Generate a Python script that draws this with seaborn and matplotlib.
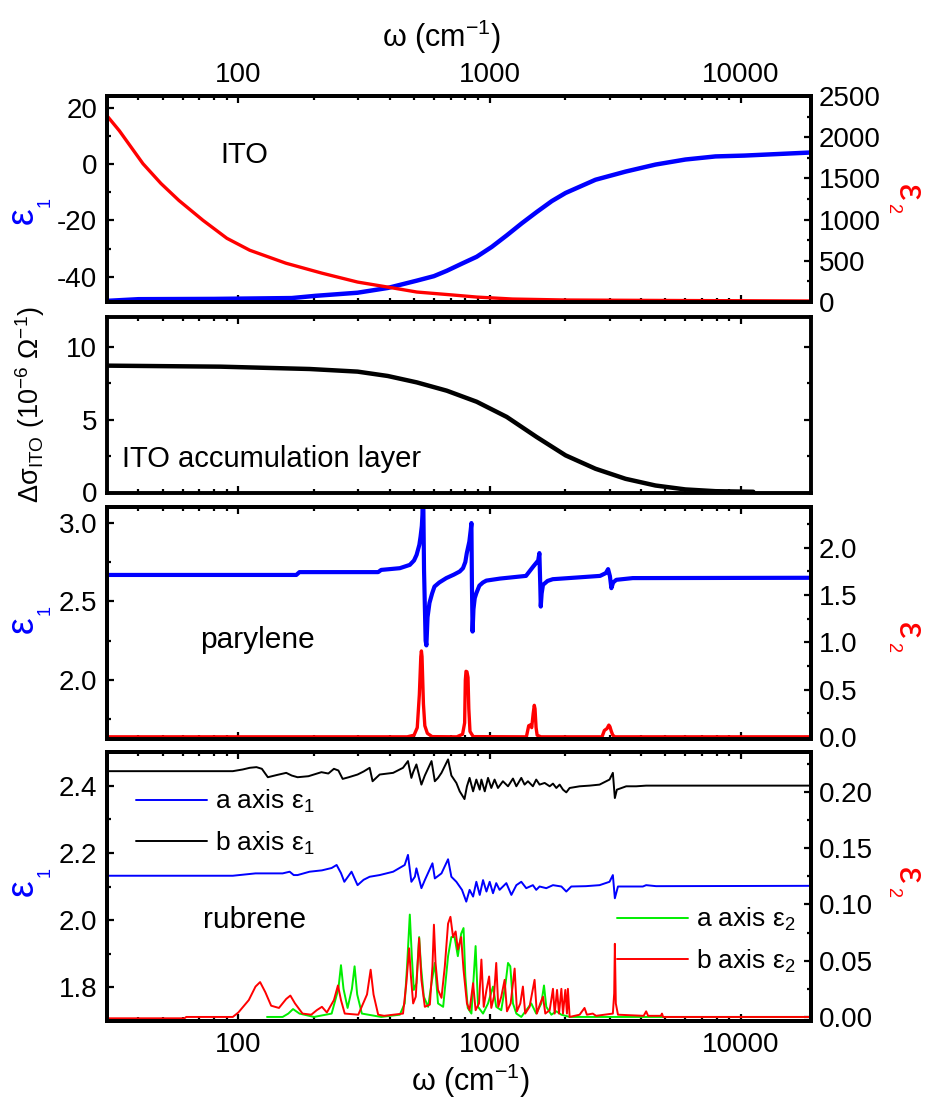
import numpy as np
import matplotlib
matplotlib.use("Agg")
import matplotlib.pyplot as plt
import seaborn as sns
from matplotlib.ticker import (MultipleLocator, FixedLocator, LogLocator,
                               FuncFormatter, NullFormatter, FormatStrFormatter)

# ---------------- ITO film: dielectric function ----------------
ito_w1 = [30, 40, 80, 163, 203, 298, 393, 513, 600, 675, 773, 888, 1019,
          1169, 1342, 1538, 1767, 2005, 2637, 3473, 4570, 6013, 7918, 10330,
          19000]
ito_eps1 = [-48.6, -48.0, -47.9, -47.6, -46.8, -45.7, -44.0, -41.4, -39.8,
            -37.9, -35.4, -32.9, -29.4, -25.3, -21.0, -17.0, -13.1, -10.2,
            -5.5, -2.6, -0.1, 1.7, 2.8, 3.1, 4.2]
ito_w2 = [30, 33.6, 41.7, 49.2, 58.0, 72.3, 90, 111, 154.5, 215, 298, 393,
          513, 713, 888, 1233, 2005, 5700, 19000]
ito_eps2 = [2260, 2078, 1679, 1438, 1232, 991, 773, 628, 471, 350, 242, 181,
            121, 85, 60, 36, 24, 18, 12]

# ---------------- ITO accumulation layer ----------------
acc_w = [30, 85, 192, 298, 393, 513, 675, 888, 1169, 1538, 2005, 2637, 3473,
         4570, 6013, 7918, 11200]
acc_dsig = [8.71, 8.64, 8.48, 8.30, 8.00, 7.56, 6.99, 6.23, 5.19, 3.81, 2.55,
            1.63, 0.94, 0.48, 0.21, 0.09, 0.05]

# ---------------- parylene ----------------
par_w1 = [30, 170, 175, 360, 370, 439, 481, 500, 512, 525, 531, 537, 540,
          543, 548, 556, 560, 566, 576, 590, 603, 630, 672, 720, 760, 783,
          800, 811, 830, 840, 846, 850, 855, 862, 872, 885, 910, 940, 970,
          1100, 1395, 1488, 1560, 1577, 1590, 1597, 1610, 1630, 1700, 1783,
          2750, 2900, 2960, 3010, 3050, 3100, 3190, 3710, 19000]
par_eps1 = [2.668, 2.668, 2.686, 2.686, 2.700, 2.711, 2.732, 2.760, 2.796,
            2.860, 2.913, 2.980, 3.05, 3.30, 2.70, 2.25, 2.22, 2.40, 2.49,
            2.55, 2.594, 2.620, 2.648, 2.670, 2.690, 2.711, 2.750, 2.807,
            2.880, 2.95, 2.998, 2.60, 2.308, 2.45, 2.52, 2.552, 2.600, 2.620,
            2.632, 2.645, 2.662, 2.72, 2.76, 2.807, 2.60, 2.467, 2.55, 2.605,
            2.630, 2.641, 2.662, 2.68, 2.705, 2.66, 2.584, 2.62, 2.637, 2.648,
            2.650]
par_w2 = [30, 470, 500, 515, 525, 532, 535, 538, 545, 552, 565, 590, 740, 780,
          795, 800, 805, 812, 820, 826, 835, 860, 1400, 1430, 1455, 1470, 1490,
          1505, 1515, 1530, 1545, 1600, 2800, 2860, 2930, 2980, 3010, 3050,
          3090, 3150, 19000]
par_eps2 = [0.003, 0.003, 0.02, 0.10, 0.45, 0.85, 0.91, 0.85, 0.35, 0.12,
            0.04, 0.005, 0.003, 0.03, 0.15, 0.60, 0.695, 0.69, 0.63, 0.30,
            0.06, 0.005, 0.003, 0.12, 0.13, 0.10, 0.25, 0.336, 0.30, 0.10,
            0.02, 0.003, 0.003, 0.07, 0.09, 0.127, 0.11, 0.06, 0.02, 0.003,
            0.003]

# ---------------- rubrene ----------------
rub_b1_w = [30, 95, 104, 111, 118, 124, 131, 143, 155, 163, 172, 190, 214,
            228, 240, 250, 260, 275, 298, 315, 333, 342, 365, 413, 452, 473,
            488, 496, 511, 535, 552, 587, 605, 623, 643, 683, 704, 737, 760,
            794, 812, 832, 859, 885, 913, 927, 956, 985, 1015, 1046, 1079,
            1129, 1183, 1238, 1277, 1336, 1377, 1420, 1486, 1532, 1580, 1655,
            1733, 1786, 1842, 1899, 1958, 2018, 2081, 2280, 2498, 2737, 2999,
            3092, 3149, 3208, 3495, 3829, 4195, 4596, 19000]
rub_b1 = [2.443, 2.443, 2.448, 2.453, 2.455, 2.450, 2.425, 2.432, 2.438,
          2.430, 2.425, 2.428, 2.440, 2.436, 2.450, 2.445, 2.420, 2.425,
          2.433, 2.442, 2.453, 2.413, 2.433, 2.438, 2.453, 2.473, 2.423,
          2.440, 2.463, 2.403, 2.430, 2.473, 2.413, 2.423, 2.438, 2.478,
          2.430, 2.408, 2.383, 2.360, 2.398, 2.423, 2.383, 2.418, 2.388,
          2.418, 2.383, 2.423, 2.393, 2.418, 2.393, 2.413, 2.398, 2.421,
          2.398, 2.423, 2.403, 2.413, 2.398, 2.418, 2.403, 2.408, 2.398,
          2.406, 2.393, 2.403, 2.388, 2.380, 2.393, 2.398, 2.400, 2.403,
          2.418, 2.438, 2.363, 2.388, 2.398, 2.398, 2.400, 2.400, 2.400]
rub_a1_w = [30, 95, 117, 150, 160, 166, 172, 192, 215, 235, 246, 256, 264,
            282, 298, 315, 333, 365, 413, 459, 473, 488, 504, 511, 535, 552,
            592, 605, 643, 683, 704, 737, 776, 807, 832, 859, 885, 913, 941,
            971, 1000, 1031, 1062, 1095, 1165, 1220, 1277, 1336, 1398, 1486,
            1532, 1580, 1680, 1786, 1929, 2018, 2112, 2415, 2737, 2999, 3092,
            3149, 3240, 4070, 4195, 4596, 19000]
rub_a1 = [2.132, 2.132, 2.139, 2.139, 2.144, 2.134, 2.134, 2.144, 2.148,
          2.155, 2.164, 2.140, 2.114, 2.144, 2.104, 2.120, 2.129, 2.134,
          2.144, 2.164, 2.194, 2.114, 2.129, 2.154, 2.095, 2.119, 2.169,
          2.124, 2.139, 2.181, 2.129, 2.114, 2.090, 2.055, 2.090, 2.070,
          2.114, 2.075, 2.119, 2.085, 2.114, 2.080, 2.110, 2.090, 2.110,
          2.075, 2.104, 2.114, 2.095, 2.104, 2.090, 2.100, 2.095, 2.104,
          2.100, 2.085, 2.100, 2.101, 2.104, 2.114, 2.134, 2.065, 2.100,
          2.100, 2.104, 2.101, 2.102]
rub_b2_w = [30, 61, 62, 95, 100, 110, 117, 122, 128, 135, 145, 155, 161, 168,
            180, 195, 205, 215, 225, 240, 249, 256, 265, 300, 325, 336, 345,
            360, 380, 452, 466, 478, 486, 496, 508, 524, 535, 552, 578, 592,
            600, 609, 623, 643, 663, 683, 698, 715, 732, 747, 770, 787, 812,
            832, 859, 879, 907, 927, 947, 971, 995, 1015, 1040, 1062, 1082,
            1112, 1147, 1172, 1212, 1257, 1284, 1324, 1356, 1385, 1441, 1509,
            1541, 1590, 1630, 1665, 1733, 1786, 1814, 1854, 1888, 1929, 1958,
            2000, 2030, 2048, 2081, 2280, 2385, 2437, 2572, 2651, 3092, 3130,
            3149, 3177, 3240, 4100, 4195, 4270, 4800, 4850, 4900, 19000]
rub_b2 = [-0.0012, -0.0012, 0.0, 0.0, 0.004, 0.015, 0.027, 0.031, 0.022,
          0.010, 0.008, 0.016, 0.019, 0.012, 0.003, 0.002, 0.006, 0.009,
          0.004, 0.015, 0.028, 0.015, 0.003, 0.002, 0.020, 0.042, 0.020,
          0.002, 0.001, 0.003, 0.030, 0.061, 0.036, 0.012, 0.018, 0.070,
          0.033, 0.009, 0.011, 0.045, 0.082, 0.048, 0.024, 0.017, 0.045,
          0.083, 0.089, 0.071, 0.076, 0.060, 0.071, 0.042, 0.012, 0.006,
          0.030, 0.006, 0.012, 0.051, 0.009, 0.024, 0.036, 0.008, 0.018,
          0.048, 0.009, 0.018, 0.033, 0.005, 0.012, 0.043, 0.005, 0.012,
          0.027, 0.003, 0.009, 0.033, 0.003, 0.012, 0.018, 0.003, 0.006,
          0.025, 0.003, 0.024, 0.003, 0.025, 0.003, 0.024, 0.003, 0.025,
          0.0, 0.002, 0.008, 0.002, 0.003, 0.001, 0.003, 0.021, 0.065, 0.012,
          0.002, 0.001, 0.005, 0.001, 0.001, 0.003, 0.0, 0.0]
rub_a2_w = [130, 150, 158, 165, 175, 200, 235, 250, 256, 262, 272, 283, 290,
            297, 310, 370, 439, 459, 469, 481, 490, 499, 511, 524, 533, 547,
            569, 587, 605, 623, 653, 683, 704, 725, 747, 770, 787, 800, 818,
            846, 879, 899, 941, 985, 1031, 1062, 1112, 1157, 1183, 1208, 1238,
            1277, 1336, 1398, 1464, 1532, 1605, 1645, 1680, 1760, 1842, 1929,
            2081, 19000]
rub_a2 = [0.0, 0.0, 0.003, 0.007, 0.003, 0.0, 0.003, 0.025, 0.046, 0.025,
          0.008, 0.025, 0.045, 0.020, 0.003, 0.0, 0.002, 0.012, 0.045, 0.091,
          0.054, 0.024, 0.030, 0.071, 0.045, 0.018, 0.009, 0.030, 0.048,
          0.012, 0.009, 0.054, 0.071, 0.071, 0.054, 0.074, 0.079, 0.036,
          0.008, 0.003, 0.063, 0.009, 0.003, 0.012, 0.027, 0.009, 0.006,
          0.030, 0.048, 0.045, 0.012, 0.003, 0.0, 0.006, 0.012, 0.003, 0.012,
          0.028, 0.009, 0.002, 0.005, 0.002, 0.0, 0.0]

x_major = [100, 1000, 10000]

# ---------------- figure layout (pixel based) ----------------
W, H = 935, 1101


def fx(px):
    return px / W


def fy(py):
    return 1 - py / H


sns.set_theme(style="ticks")
plt.rcParams.update({
    "font.family": ["Liberation Sans", "DejaVu Sans"],
    "mathtext.default": "regular",
    "axes.unicode_minus": False,
    "axes.linewidth": 2.8,
    "axes.edgecolor": "black",
    "text.color": "black",
    "xtick.color": "black", "ytick.color": "black",
    "xtick.direction": "in", "ytick.direction": "in",
    "xtick.major.size": 5, "ytick.major.size": 5,
    "xtick.minor.size": 3, "ytick.minor.size": 3,
    "xtick.major.width": 1.6, "ytick.major.width": 1.6,
    "xtick.minor.width": 1.6, "ytick.minor.width": 1.6,
    "xtick.labelsize": 20, "ytick.labelsize": 20,
})

fig = plt.figure(figsize=(W / 100, H / 100), dpi=100)

X0, X1 = 107, 811


def panel(top, bottom):
    return fig.add_axes([fx(X0), fy(bottom), (X1 - X0) / W, (bottom - top) / H])


ax1 = panel(96, 302)
ax2 = panel(317, 492.5)
ax3 = panel(507, 739)
ax4 = panel(752, 1021)
ax1r = ax1.twinx()
ax3r = ax3.twinx()
ax4r = ax4.twinx()

for ax in (ax1, ax2, ax3, ax4, ax1r, ax3r, ax4r):
    ax.set_xscale("log")


def trace(ax, w, v, color, lw, label=None):
    sns.lineplot(x=w, y=v, ax=ax, color=color, linewidth=lw, sort=False,
                 estimator=None, legend=False, label=label)


# ITO
trace(ax1, ito_w1, ito_eps1, "#0000ff", 3.2)
trace(ax1r, ito_w2, ito_eps2, "#ff0000", 2.4)
# accumulation layer
trace(ax2, acc_w, acc_dsig, "black", 3.2)
# parylene
trace(ax3, par_w1, par_eps1, "#0000ff", 3.0)
trace(ax3r, par_w2, par_eps2, "#ff0000", 2.4)
# rubrene
trace(ax4, rub_a1_w, rub_a1, "#0000ff", 1.4, "a axis $ε_1$")
trace(ax4, rub_b1_w, rub_b1, "black", 1.4, "b axis $ε_1$")
trace(ax4r, rub_a2_w, rub_a2, "#00ee00", 1.4, "a axis $ε_2$")
trace(ax4r, rub_b2_w, rub_b2, "#ff0000", 1.4, "b axis $ε_2$")

# ---------------- axes styling ----------------
for ax in (ax1, ax2, ax3, ax4):
    ax.set_xlim(30, 19000)
    ax.xaxis.set_major_locator(FixedLocator(x_major))
    ax.xaxis.set_minor_locator(LogLocator(base=10, subs=np.arange(2, 10) * 1.0, numticks=20))
    ax.xaxis.set_major_formatter(FuncFormatter(lambda v, p: f"{v:.0f}"))
    ax.xaxis.set_minor_formatter(NullFormatter())
    ax.tick_params(axis="x", which="both", top=True, bottom=True,
                   labeltop=False, labelbottom=False)
    ax.tick_params(axis="y", which="both", left=True, right=False, pad=7)
    ax.set_xlabel("")
    ax.set_ylabel("")

ax1.tick_params(axis="x", labeltop=True, pad=5.5)
ax4.tick_params(axis="x", labelbottom=True, pad=8)
ax2.tick_params(axis="y", which="both", right=True)

for axr in (ax1r, ax3r, ax4r):
    axr.tick_params(axis="y", which="both", right=True, left=False,
                    labelright=True, pad=5.5)
    axr.set_ylabel("")

ax1.set_ylim(-49, 24.3)
ax1.yaxis.set_major_locator(MultipleLocator(20))
ax1.yaxis.set_minor_locator(MultipleLocator(10))
ax1.yaxis.set_major_formatter(FormatStrFormatter("%d"))
ax1r.set_ylim(0, 2500)
ax1r.yaxis.set_major_locator(MultipleLocator(500))
ax1r.yaxis.set_minor_locator(MultipleLocator(250))
ax1r.yaxis.set_major_formatter(FormatStrFormatter("%d"))

ax2.set_ylim(0, 12.05)
ax2.yaxis.set_major_locator(MultipleLocator(5))
ax2.yaxis.set_minor_locator(MultipleLocator(2.5))
ax2.yaxis.set_major_formatter(FormatStrFormatter("%d"))

ax3.set_ylim(1.625, 3.10)
ax3.yaxis.set_major_locator(MultipleLocator(0.5))
ax3.yaxis.set_minor_locator(MultipleLocator(0.25))
ax3.yaxis.set_major_formatter(FormatStrFormatter("%.1f"))
ax3r.set_ylim(-0.02, 2.43)
ax3r.yaxis.set_major_locator(MultipleLocator(0.5))
ax3r.yaxis.set_minor_locator(MultipleLocator(0.25))
ax3r.yaxis.set_major_formatter(FormatStrFormatter("%.1f"))

ax4.set_ylim(1.70, 2.50)
ax4.yaxis.set_major_locator(MultipleLocator(0.2))
ax4.yaxis.set_minor_locator(MultipleLocator(0.1))
ax4.yaxis.set_major_formatter(FormatStrFormatter("%.1f"))
ax4r.set_ylim(-0.0036, 0.2355)
ax4r.yaxis.set_major_locator(MultipleLocator(0.05))
ax4r.yaxis.set_minor_locator(MultipleLocator(0.025))
ax4r.yaxis.set_major_formatter(FormatStrFormatter("%.2f"))

for ax in (ax1, ax2, ax3, ax4, ax1r, ax3r, ax4r):
    for s in ax.spines.values():
        s.set_linewidth(2.8)
        s.set_color("black")

# ---------------- legends ----------------
h1, l1 = ax4.get_legend_handles_labels()
ax4.legend(h1, l1, loc="upper left", bbox_to_anchor=(fx(136), fy(788)),
           bbox_transform=fig.transFigure, frameon=False, fontsize=19,
           handlelength=2.7, handletextpad=0.3, labelspacing=0.55,
           borderpad=0, borderaxespad=0)
h2, l2 = ax4r.get_legend_handles_labels()
ax4r.legend(h2, l2, loc="upper left", bbox_to_anchor=(fx(617), fy(906)),
            bbox_transform=fig.transFigure, frameon=False, fontsize=19,
            handlelength=2.7, handletextpad=0.3, labelspacing=0.55,
            borderpad=0, borderaxespad=0)

# ---------------- texts ----------------
fig.text(fx(220), fy(163), "ITO", fontsize=21, va="baseline")
fig.text(fx(122), fy(467), "ITO accumulation layer", fontsize=21, va="baseline")
fig.text(fx(200), fy(648), "parylene", fontsize=21.5, va="baseline")
fig.text(fx(203), fy(928), "rubrene", fontsize=21.5, va="baseline")

fig.text(fx(441), fy(47), "ω (cm$^{-1}$)", fontsize=22, ha="center", va="baseline")
fig.text(fx(470), fy(1091), "ω (cm$^{-1}$)", fontsize=22, ha="center", va="baseline")


def eps_label(ex, ey, sx, sy, sub, color, rot):
    fig.text(fx(ex), fy(ey), "ε", fontsize=27, color=color, rotation=rot,
             ha="center", va="center")
    fig.text(fx(sx), fy(sy), sub, fontsize=13, color=color, rotation=rot,
             ha="center", va="center")


eps_label(23, 216, 45, 202, "1", "#0000ff", 90)
eps_label(23, 625, 45, 610, "1", "#0000ff", 90)
eps_label(23, 888, 45, 872, "1", "#0000ff", 90)
eps_label(908, 192, 893, 208, "2", "#ff0000", 270)
eps_label(908, 630, 893, 647, "2", "#ff0000", 270)
eps_label(908, 875, 893, 892, "2", "#ff0000", 270)

fig.text(fx(30), fy(405), r"$\Delta\sigma_{ITO}$ (10$^{-6}$ $\Omega^{-1}$)",
         fontsize=19.5, rotation=90, ha="center", va="center")

fig.savefig("out.png", dpi=100)
